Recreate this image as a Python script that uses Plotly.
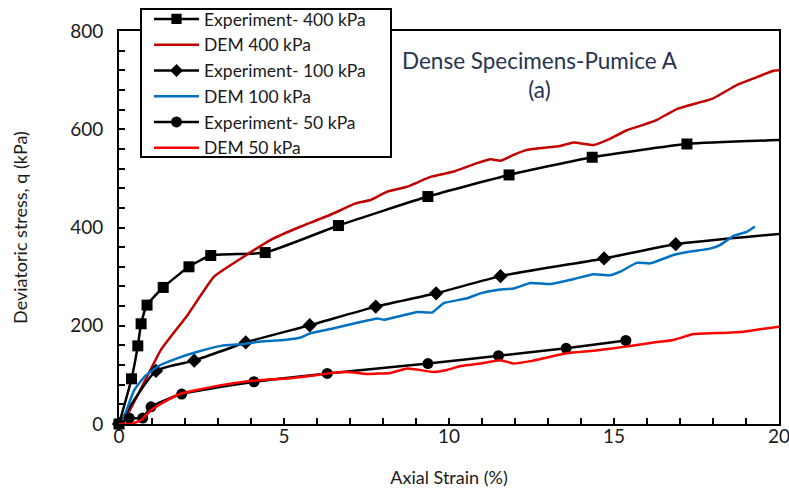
import plotly.graph_objects as go

# Experimental triaxial results (axial strain %, deviatoric stress kPa)
exp400_strain = [0.0, 0.38, 0.57, 0.67, 0.85, 1.34, 2.12, 2.78, 4.43, 6.65, 9.36, 11.82, 14.34, 17.21, 20.0]
exp400_q = [0, 92, 159, 204, 242, 278, 320, 343, 349, 404, 463, 507, 543, 570, 578]

exp100_strain = [0.0, 1.12, 2.28, 3.84, 5.78, 7.78, 9.61, 11.56, 14.70, 16.87, 20.0]
exp100_q = [0, 108, 129, 166, 201, 239, 266, 301, 337, 366, 387]

exp50_strain = [0.0, 0.31, 0.72, 0.97, 1.90, 4.09, 6.31, 9.36, 11.50, 13.55, 15.36]
exp50_q = [0, 12, 12, 35, 61, 86, 103, 123, 139, 154, 170]

# DEM simulation curves
dem400_strain = [0.0, 0.16, 0.72, 1.27, 2.08, 2.88, 3.79, 4.60, 5.51, 5.81, 6.41, 7.17, 7.62,
                 8.13, 8.73, 9.44, 10.15, 10.85, 11.26, 11.56, 11.96, 12.37, 13.37, 13.78,
                 14.38, 14.79, 15.39, 15.89, 16.30, 16.90, 17.51, 18.01, 18.72, 19.33, 19.83, 20.0]
dem400_q = [0, 8, 79, 151, 222, 300, 341, 375, 402, 410, 426, 449, 456,
            473, 483, 503, 514, 531, 539, 536, 548, 558, 566, 573,
            568, 578, 598, 609, 619, 641, 653, 663, 690, 706, 719, 720]

dem100_strain = [0.0, 0.11, 0.46, 0.77, 1.17, 1.78, 2.38, 3.09, 3.79, 4.30, 5.00, 5.51, 5.81,
                 6.51, 7.22, 7.83, 8.03, 8.53, 9.04, 9.49, 9.84, 10.55, 10.95, 11.46, 11.96,
                 12.47, 13.07, 13.78, 14.38, 14.89, 15.19, 15.69, 16.10, 16.80, 17.31, 17.91,
                 18.21, 18.62, 19.02, 19.27]
dem100_q = [0, 8, 69, 96, 117, 134, 147, 159, 163, 168, 171, 176, 185,
            195, 206, 215, 212, 220, 228, 227, 246, 256, 266, 273, 276,
            287, 285, 295, 305, 303, 310, 328, 327, 344, 351, 357,
            364, 383, 391, 402]

dem50_strain = [0.0, 0.36, 0.67, 0.97, 1.37, 1.88, 2.48, 3.09, 3.79, 4.60, 5.20, 5.81, 6.31,
                6.92, 7.52, 8.23, 8.73, 9.54, 9.94, 10.35, 10.95, 11.56, 11.96, 12.47, 13.07,
                13.58, 14.38, 14.99, 15.49, 16.20, 16.80, 17.41, 18.11, 18.92, 19.42, 20.0]
dem50_q = [0, 0, 8, 28, 45, 62, 71, 79, 86, 91, 93, 98, 103,
           106, 102, 104, 113, 106, 110, 118, 123, 130, 123, 128, 137,
           144, 149, 154, 159, 166, 171, 183, 185, 188, 193, 198]

FONT = "Lato"
TEXT = "#1a1a1a"
BLACK = "#000000"
DARK_RED = "#C00000"
BLUE = "#0070C0"
RED = "#FF0000"

W, H = 789, 494
# plot frame in pixels: left, right, top, bottom
PL, PR, PT, PB = 119, 779, 31, 424
# legend frame in pixels: left, right, top, bottom
LL, LR, LT, LB = 141, 391, 9, 157


def marker_sizes(strain, size):
    # the curve continues to the axis edge without a symbol at its last point
    return [0 if s >= 20 else size for s in strain]


def experiment_trace(strain, q, name, symbol):
    return go.Scatter(
        x=strain, y=q, name=name, mode="lines+markers",
        line=dict(color=BLACK, width=2.5, shape="spline", smoothing=0.5),
        marker=dict(symbol=symbol, size=marker_sizes(strain, 11), color=BLACK,
                    opacity=1, line=dict(width=0)),
        cliponaxis=False)


def dem_trace(strain, q, name, color):
    return go.Scatter(
        x=strain, y=q, name=name, mode="lines",
        line=dict(color=color, width=2.5, shape="spline", smoothing=0.4))


fig = go.Figure()
fig.add_trace(experiment_trace(exp400_strain, exp400_q, "Experiment- 400 kPa", "square"))
fig.add_trace(dem_trace(dem400_strain, dem400_q, "DEM 400 kPa", DARK_RED))
fig.add_trace(experiment_trace(exp100_strain, exp100_q, "Experiment- 100 kPa", "diamond"))
fig.add_trace(dem_trace(dem100_strain, dem100_q, "DEM 100 kPa", BLUE))
fig.add_trace(experiment_trace(exp50_strain, exp50_q, "Experiment- 50 kPa", "circle"))
fig.add_trace(dem_trace(dem50_strain, dem50_q, "DEM 50 kPa", RED))

axis_common = dict(
    showline=True, linecolor=BLACK, linewidth=2, mirror=True,
    ticks="inside", ticklen=6, tickwidth=1.5, tickcolor=BLACK,
    showgrid=False, zeroline=False, automargin=False,
    ticklabeloverflow="allow",
    tickfont=dict(family=FONT, size=19, color=TEXT),
)

fig.update_xaxes(
    domain=[PL / W, PR / W],
    range=[0, 20], dtick=5, tick0=0,
    minor=dict(dtick=1, ticks="inside", ticklen=6, tickwidth=1.5, tickcolor=BLACK, showgrid=False),
    title=dict(text="Axial Strain (%)", font=dict(family=FONT, size=18, color=TEXT), standoff=26),
    ticklabelstandoff=-6,
    **axis_common)
fig.update_yaxes(
    domain=[1 - PB / H, 1 - PT / H],
    range=[0, 800], dtick=200, tick0=0,
    minor=dict(dtick=40, ticks="inside", ticklen=6, tickwidth=1.5, tickcolor=BLACK, showgrid=False),
    title=dict(text="Deviatoric stress, q (kPa)", font=dict(family=FONT, size=18, color=TEXT), standoff=38),
    ticklabelstandoff=10,
    **axis_common)

fig.add_annotation(
    x=540 / W, y=1 - 75 / H, xref="paper", yref="paper", xanchor="center", yanchor="middle",
    showarrow=False, text="Dense Specimens-Pumice A<br>(a)", align="center",
    font=dict(family=FONT, size=22.5, color="#263450"))

# white framed panel behind the legend entries
fig.add_shape(
    type="rect", xref="paper", yref="paper", layer="above",
    x0=LL / W, x1=LR / W, y0=1 - LB / H, y1=1 - LT / H,
    fillcolor="white", line=dict(color=BLACK, width=2))

fig.update_layout(
    width=W, height=H,
    margin=dict(l=0, r=0, t=0, b=0, autoexpand=False),
    paper_bgcolor="white", plot_bgcolor="white",
    showlegend=True,
    legend=dict(
        x=(LL + 8) / W, y=1 - 1 / H, xanchor="left", yanchor="top",
        bgcolor="rgba(0,0,0,0)", borderwidth=0,
        font=dict(family=FONT, size=17.5, color=TEXT),
        itemwidth=45, tracegroupgap=0,
    ),
)

fig.write_html("out.html")
